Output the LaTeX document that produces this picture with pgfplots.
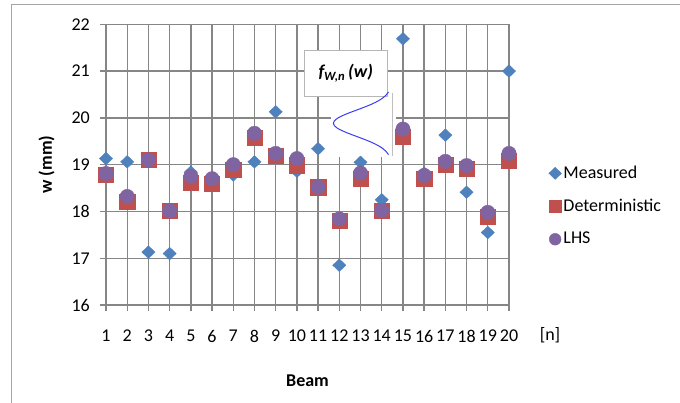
\documentclass[border=0pt]{standalone}
\usepackage{pgfplots}
\pgfplotsset{compat=1.18}
\usepackage{fontspec}
\setmainfont{Carlito}
\definecolor{meas}{HTML}{4F81BD}
\definecolor{det}{HTML}{C0504D}
\definecolor{lhs}{HTML}{8064A2}
\definecolor{gridc}{RGB}{134,134,134}
\definecolor{framec}{RGB}{165,165,165}
\definecolor{pdfc}{RGB}{60,60,240}
\newcommand{\cf}{\fontsize{18bp}{21bp}\selectfont}
\begin{document}
\cf
\begin{tikzpicture}
\path[use as bounding box] (0,0) rectangle (680bp,-403bp);
\draw[framec, line width=1.2bp] (11.7bp,-403bp) -- (11.7bp,-4.3bp) -- (680bp,-4.3bp);
\begin{axis}[
  at={(106bp,-305bp)}, anchor=south west,
  scale only axis, width=403bp, height=280.7bp,
  xmin=1, xmax=20, ymin=16, ymax=22,
  xtick={1,...,20}, ytick={16,...,22},
  axis lines=left, axis line style={-, gridc, line width=1.4bp},
  grid=major, major grid style={gridc, line width=1.4bp},
  tick align=outside, major tick length=6bp,
  tick style={gridc, line width=1.4bp},
  /pgf/number format/assume math mode=true,
  ticklabel style={font=\cf, black},
  xticklabel style={anchor=north, yshift=-13bp},
  yticklabel style={anchor=east, xshift=-4bp},
  xlabel={\textbf{Beam}}, ylabel={\textbf{w (mm)}},
  every axis x label/.style={at={(axis description cs:0.5,0)}, anchor=center, yshift=-76bp, font=\cf},
  every axis y label/.style={at={(axis description cs:-0.1472,0.5)}, anchor=center, rotate=90, font=\cf},
  legend image code/.code={\draw[#1] plot coordinates {(0bp,0bp)};},
  legend style={at={(axis description cs:1.091,0.511)}, anchor=north west, draw=none, fill=none,
    font=\cf, row sep=14bp, legend cell align=left},
  clip=true,
]
\addplot[only marks, mark=diamond*, mark size=6.3bp, color=meas, mark options={xscale=1.4},
  legend image post style={mark size=6bp}]
  coordinates {(1,19.13)(2,19.06)(3,17.13)(4,17.10)(5,18.84)(6,18.66)(7,18.78)(8,19.06)(9,20.13)(10,18.86)
  (11,19.34)(12,16.85)(13,19.05)(14,18.25)(15,21.69)(16,18.82)(17,19.63)(18,18.41)(19,17.55)(20,21.00)};
\addlegendentry{Measured}
\addplot[only marks, mark=square*, mark size=7.6bp, color=det,
  legend image post style={mark size=6.1bp}]
  coordinates {(1,18.79)(2,18.20)(3,19.10)(4,18.01)(5,18.62)(6,18.60)(7,18.89)(8,19.58)(9,19.19)(10,18.99)
  (11,18.52)(12,17.81)(13,18.70)(14,18.02)(15,19.60)(16,18.70)(17,19.00)(18,18.91)(19,17.89)(20,19.09)};
\addlegendentry{Deterministic}
\addplot[only marks, mark=*, mark size=7.2bp, color=lhs,
  legend image post style={mark size=5.9bp}]
  coordinates {(1,18.81)(2,18.32)(3,19.10)(4,18.01)(5,18.75)(6,18.70)(7,19.00)(8,19.67)(9,19.24)(10,19.13)
  (11,18.52)(12,17.84)(13,18.82)(14,18.02)(15,19.76)(16,18.77)(17,19.07)(18,18.98)(19,17.98)(20,19.24)};
\addlegendentry{LHS}
% inset: probability density sketch
\fill[white] (axis cs:11.61,20.60) rectangle (axis cs:14.68,19.165);
\draw[gridc!60, line width=0.6bp, fill=white] (axis cs:10.34,21.45) rectangle (axis cs:14.26,20.47);
\node[font=\cf] at (axis cs:12.30,20.96) {\bfseries\itshape f\textsubscript{W,n}\,(w)};
\draw[gray!50, line width=0.6bp] (axis cs:14.476,20.54) -- (axis cs:14.476,19.186);
\addplot[pdfc, line width=1bp, smooth, forget plot] coordinates {
 (14.319,19.215)(14.199,19.285)(14.076,19.335)(13.917,19.385)(13.718,19.435)(13.483,19.485)
 (13.214,19.535)(12.924,19.585)(12.626,19.635)(12.341,19.685)(12.089,19.735)(11.890,19.785)
 (11.764,19.835)(11.720,19.885)(11.764,19.935)(11.890,19.985)(12.089,20.035)(12.341,20.085)
 (12.626,20.135)(12.924,20.185)(13.214,20.235)(13.483,20.285)(13.718,20.335)(13.917,20.385)
 (14.076,20.435)(14.199,20.485)(14.319,20.555)};
\end{axis}
\node[font=\cf] at (550bp,-335bp) {[n]};
\end{tikzpicture}
\end{document}
